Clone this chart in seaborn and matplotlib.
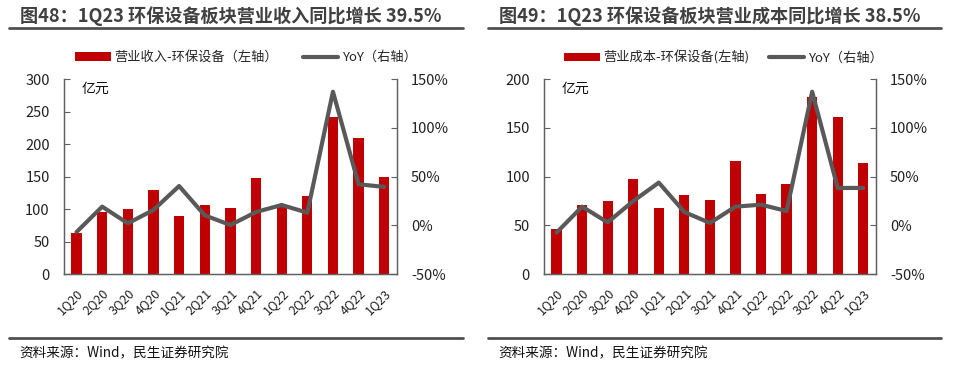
import numpy as np
import pandas as pd
import matplotlib
matplotlib.use("Agg")
import matplotlib.pyplot as plt
import seaborn as sns
from matplotlib.lines import Line2D
from matplotlib.patches import Patch
from matplotlib.ticker import FixedLocator

sns.set_style("white")
plt.rcParams['font.family'] = ['Noto Sans CJK SC', 'DejaVu Sans']

quarters = ["1Q20", "2Q20", "3Q20", "4Q20", "1Q21", "2Q21", "3Q21", "4Q21",
            "1Q22", "2Q22", "3Q22", "4Q22", "1Q23"]
revenue = [63, 96, 101, 130, 89, 106, 102, 148, 105, 120, 241, 210, 150]
revenue_yoy = [-6.7, 19.3, 2.2, 15.9, 40.4, 10.4, 0.5, 13.8, 21.0, 13.1, 137.0, 42.2, 39.5]
cost = [46.4, 70.6, 74.7, 97.6, 67.6, 80.9, 76.5, 116.4, 82.3, 92.5, 181.2, 160.8, 113.7]
cost_yoy = [-7.3, 19.3, 3.2, 25.0, 43.9, 13.8, 2.6, 19.3, 21.3, 14.8, 137.0, 38.4, 38.5]

titles = ["图48：1Q23 环保设备板块营业收入同比增长 39.5%",
          "图49：1Q23 环保设备板块营业成本同比增长 38.5%"]
bar_labels = ["营业收入-环保设备（左轴）", "营业成本-环保设备(左轴)"]
line_label = "YoY（右轴）"
unit = "亿元"
source = "资料来源：Wind，民生证券研究院"
left_ticks = [[0, 50, 100, 150, 200, 250, 300], [0, 50, 100, 150, 200]]
right_ticks = [-50, 0, 50, 100, 150]

RED = "#C00000"
GRAY = "#595959"
DARK = "#404040"
SPINE = "#606060"

fig = plt.figure(figsize=(9.54, 3.71), dpi=100)

panels = [
    dict(x0=0.0668, w=0.3494, bars=revenue, yoy=revenue_yoy, ymax=300,
         title_x=20, line_x=(9, 463), leg_x=75, colsp=1.9),
    dict(x0=0.5700, w=0.3483, bars=cost, yoy=cost_yoy, ymax=200,
         title_x=499, line_x=(488, 941), leg_x=564, colsp=1.5),
]

W, H = 954, 371
for i, p in enumerate(panels):
    ax = fig.add_axes([p["x0"], 0.2606, p["w"], 0.5264])
    df = pd.DataFrame({"q": quarters, "v": p["bars"]})
    sns.barplot(data=df, x="q", y="v", ax=ax, color=RED, width=0.4,
                saturation=1, edgecolor="none")
    ax.set_xlim(-0.5, len(quarters) - 0.5)
    ax.set_ylim(0, p["ymax"])
    ax.set_yticks(left_ticks[i])
    ax.set_xlabel("")
    ax.set_ylabel("")
    ax.tick_params(axis="x", labelrotation=45, labelsize=9, length=0, pad=9,
                   labelcolor="#222222")
    for lab in ax.get_xticklabels():
        lab.set_ha("right")
        lab.set_rotation_mode("anchor")
    ax.xaxis.set_minor_locator(FixedLocator(np.arange(-0.5, len(quarters), 1.0)))
    ax.tick_params(axis="x", which="minor", direction="in", length=3, color=SPINE)
    ax.tick_params(axis="y", direction="in", length=4, labelsize=10.5,
                   color=SPINE, pad=10, labelcolor="#222222")
    for s in ["left", "bottom", "right"]:
        ax.spines[s].set_color(SPINE)
        ax.spines[s].set_linewidth(1)
    ax.spines["top"].set_visible(False)
    ax.text(0.055, 0.985, unit, transform=ax.transAxes, fontsize=10,
            va="top", ha="left", color="#111111")

    ax2 = ax.twinx()
    sns.lineplot(x=np.arange(len(quarters)), y=p["yoy"], ax=ax2, color=GRAY,
                 linewidth=3)
    ax2.set_ylim(-50, 150)
    ax2.set_yticks(right_ticks)
    ax2.set_yticklabels([f"{t}%" for t in right_ticks])
    ax2.tick_params(axis="y", direction="in", length=4, labelsize=10.5,
                    color=SPINE, pad=10, labelcolor="#222222")
    for s in ["left", "bottom", "right"]:
        ax2.spines[s].set_color(SPINE)
    ax2.spines["top"].set_visible(False)
    ax2.set_xlim(-0.5, len(quarters) - 0.5)

    # title
    fig.text(p["title_x"] / W, 1 - 16.5 / H, titles[i], fontsize=13.1,
             fontweight="bold", color=DARK, va="center", ha="left")
    fig.add_artist(Line2D([p["line_x"][0] / W, p["line_x"][1] / W],
                          [1 - 27.5 / H] * 2, color="#505050", linewidth=2))
    # footer
    fig.add_artist(Line2D([p["line_x"][0] / W, p["line_x"][1] / W],
                          [1 - 338 / H] * 2, color="#505050", linewidth=2))
    fig.text((p["line_x"][0] + 10) / W, 1 - 353 / H, source, fontsize=9.8,
             color="#111111", va="center", ha="left")

    handles = [Patch(facecolor=RED, edgecolor="none", label=bar_labels[i]),
               Line2D([0], [0], color=GRAY, linewidth=3, label=line_label)]
    fig.legend(handles=handles, loc="center left",
               bbox_to_anchor=(p["leg_x"] / W, 1 - 57.5 / H),
               ncol=2, frameon=False, fontsize=9.5, handlelength=2.7,
               handleheight=0.6, handletextpad=0.25, columnspacing=p["colsp"],
               borderaxespad=0, borderpad=0)

fig.savefig("out.png", dpi=100)
